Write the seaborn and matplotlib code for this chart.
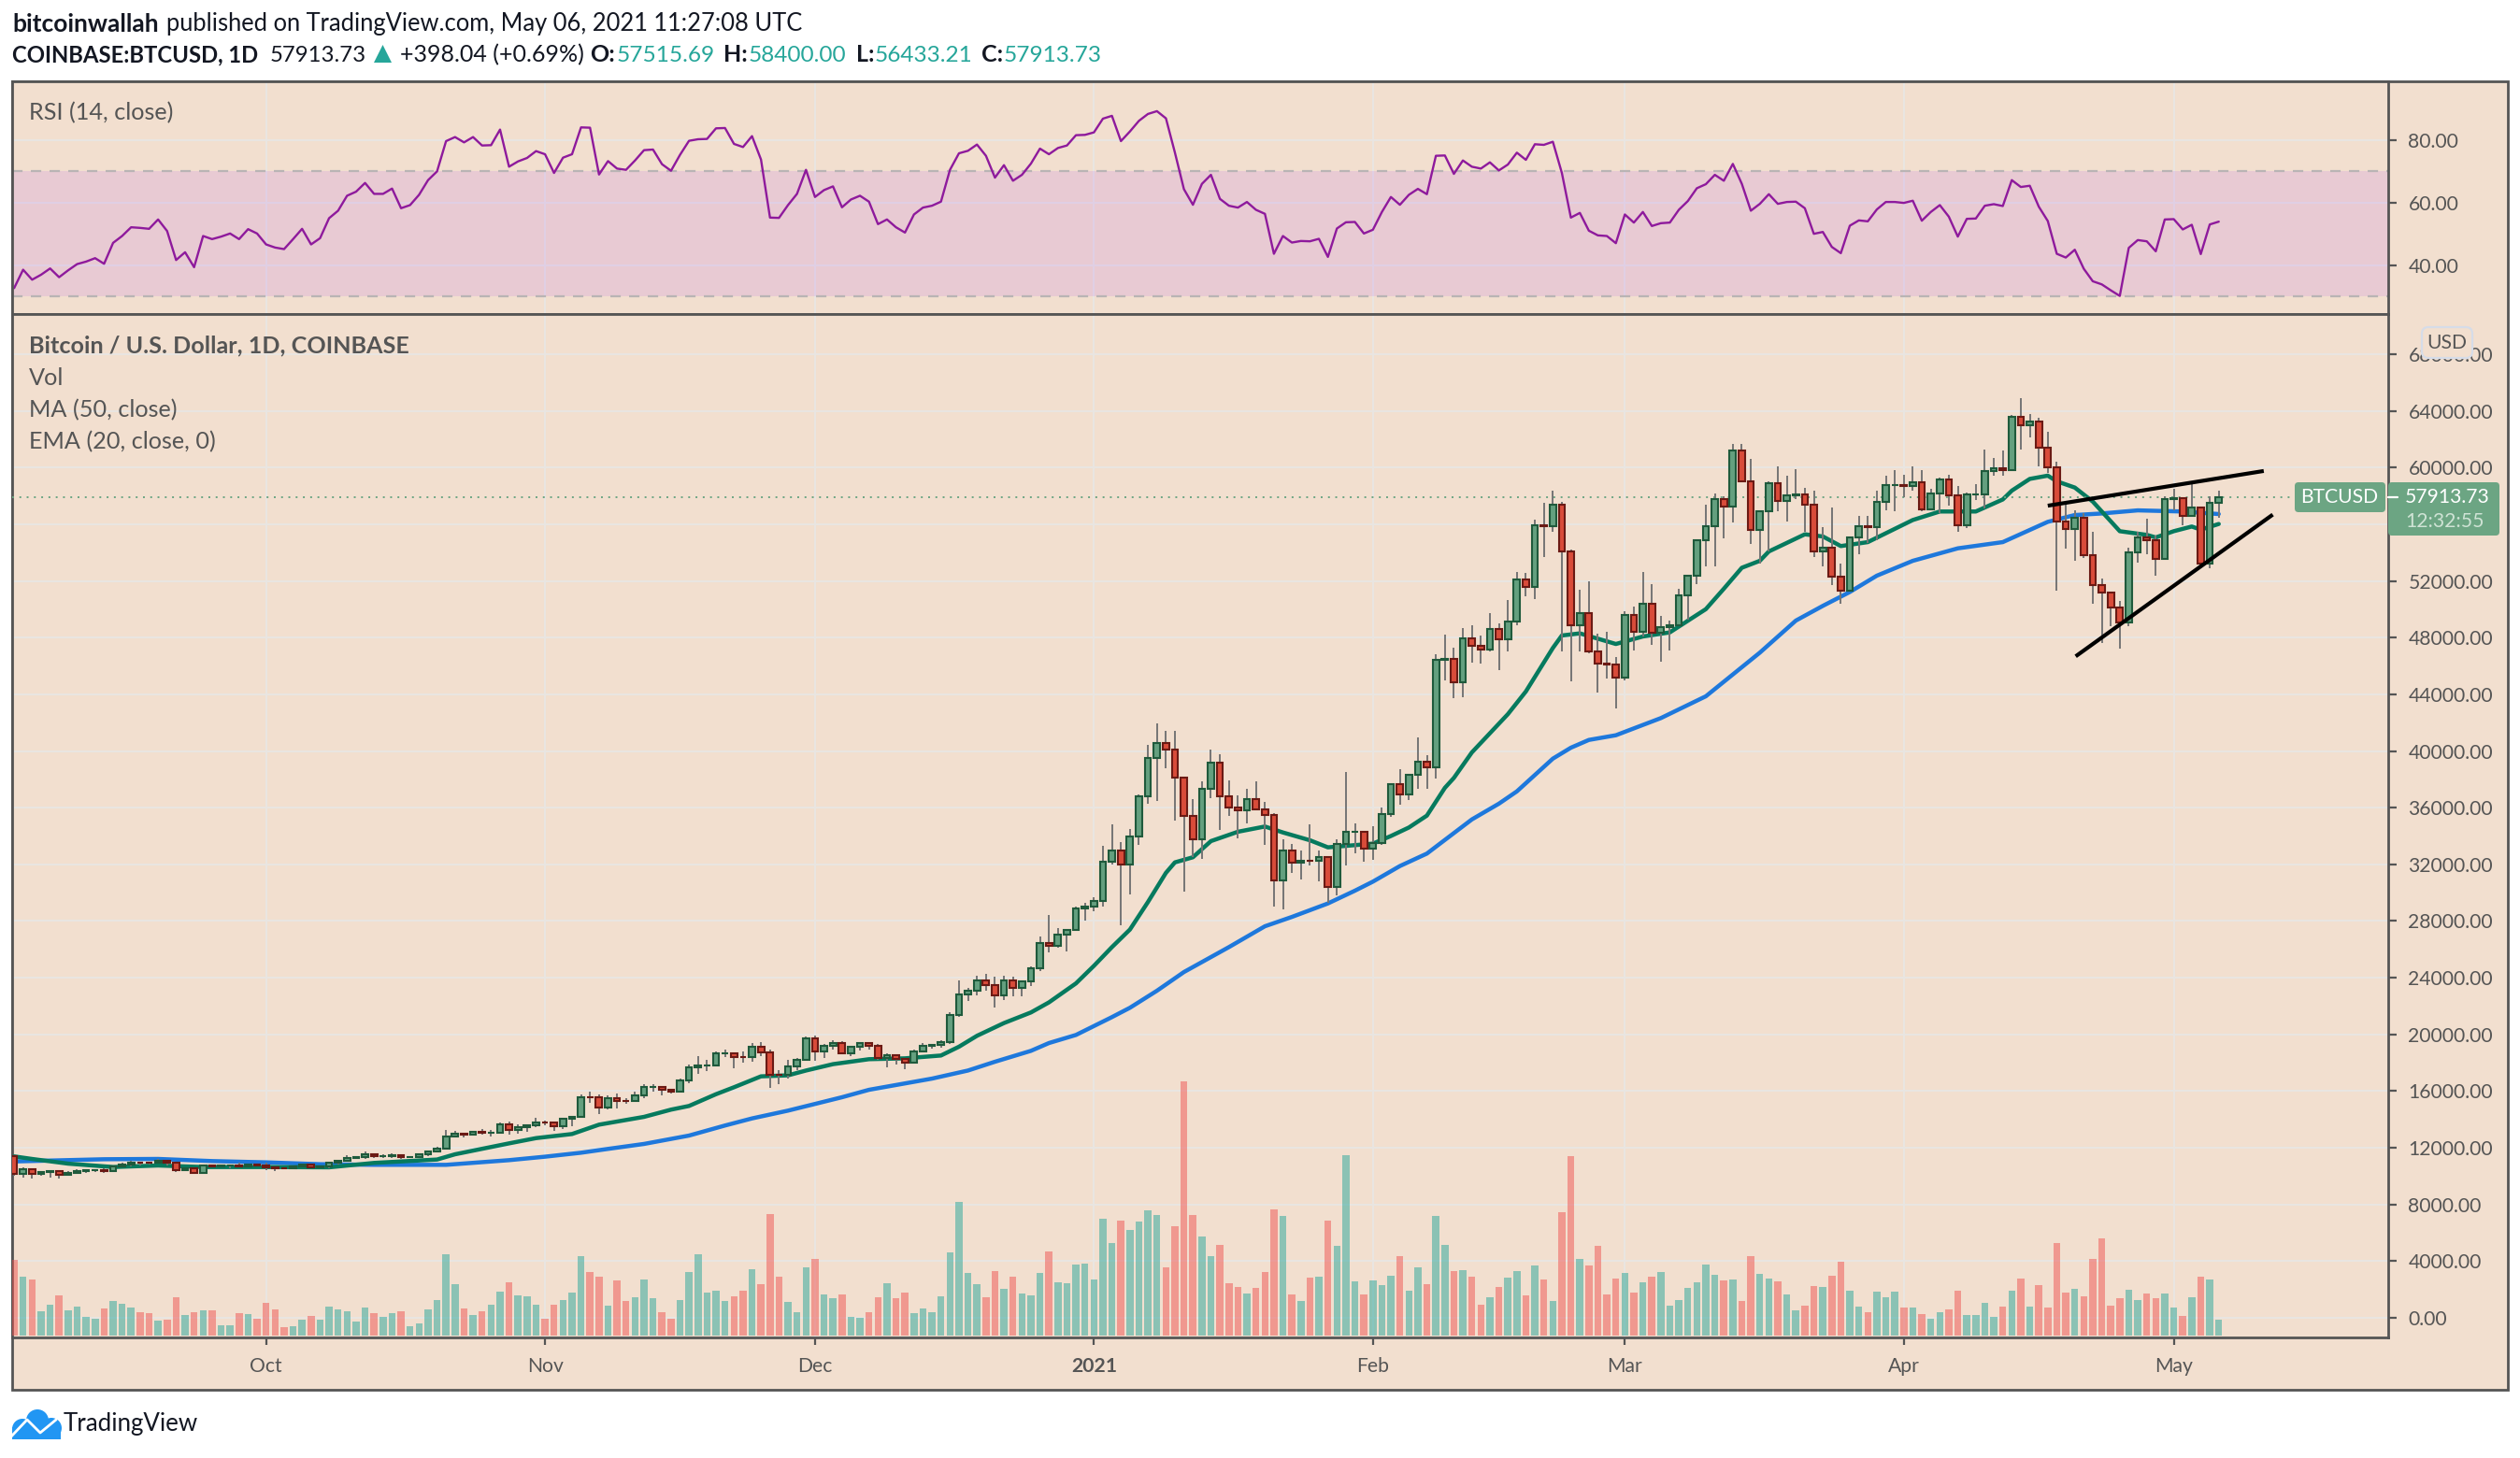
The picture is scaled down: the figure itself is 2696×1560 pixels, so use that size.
import matplotlib
matplotlib.use("Agg")
import matplotlib.pyplot as plt
import pandas as pd
import seaborn as sns
from matplotlib.lines import Line2D
from matplotlib.patches import Circle, FancyBboxPatch, Polygon, Rectangle
from matplotlib.transforms import Affine2D

# Daily closes, Sep 3 2020 to May 6 2021, one row per month
first_open = 11400
closes = [
    10170, 10470, 10160, 10260, 10370, 10120, 10230, 10340, 10390, 10440, 10330, 10680, 10790, 10955, 10940, 10930,
    11080, 10920, 10420, 10535, 10240, 10740, 10690, 10725, 10775, 10690, 10840, 10780,
    10620, 10570, 10550, 10670, 10790, 10600, 10670, 10920, 11060, 11300, 11375, 11540, 11430, 11430, 11500, 11320,
    11370, 11510, 11750, 11915, 12810, 12990, 12940, 13120, 13030, 13070, 13650, 13280, 13460, 13560, 13800,
    13760, 13550, 14020, 14150, 15590, 15580, 14840, 15480, 15330, 15300, 15700, 16290, 16320, 16070, 15960,
    16730, 17660, 17780, 17800, 18670, 18680, 18400, 18370, 19150, 18730, 17150, 17130, 17720, 18180, 19700,
    18790, 19220, 19420, 18650, 19150, 19360, 19170, 18320, 18550, 18250, 18030, 18810, 19160, 19270, 19440,
    21350, 22800, 23110, 23820, 23480, 22730, 23820, 23250, 23720, 24690, 26450, 26250, 27030, 27370, 28880, 28990,
    29410, 32200, 33000, 31990, 33950, 36770, 39480, 40580, 40090, 38150, 35400, 33780, 37310, 39150, 36830, 36020,
    35820, 36620, 35900, 35470, 30850, 33000, 32090, 32280, 32260, 32500, 30400, 33430, 34290, 34300, 33110,
    33520, 35520, 37670, 36950, 38290, 39250, 38870, 46450, 46500, 44850, 47970, 47400, 47190, 48580, 47900,
    49150, 52120, 51570, 55900, 55880, 57400, 54100, 48870, 49700, 47050, 46170, 46100, 45200,
    49610, 48440, 50370, 48370, 48760, 48880, 50970, 52390, 54890, 55850, 57800, 57240, 61180, 59000, 55630, 56900,
    58900, 57650, 58030, 58100, 57350, 54080, 54340, 52300, 51300, 55050, 55850, 55780, 57600, 58770, 58790,
    58720, 58950, 57070, 58200, 59130, 58020, 55960, 58100, 58100, 59770, 59980, 59830, 63590, 62970, 63220,
    61400, 60010, 56200, 55670, 56480, 53800, 51700, 51190, 50100, 49100, 54030, 55040, 54880, 53570, 57750,
    57840, 56620, 57200, 53240, 57515, 57913,
]
highs = [
    11460, 10630, 10570, 10350, 10400, 10440, 10350, 10500, 10400, 10480, 10580, 10760, 10940, 11100, 11040, 11040,
    11180, 11050, 10980, 10580, 10560, 10780, 10770, 10820, 10800, 10950, 10860, 10850,
    10930, 10670, 10590, 10700, 10800, 10800, 10690, 10960, 11110, 11490, 11440, 11730, 11560, 11550, 11620, 11550,
    11400, 11530, 11820, 12040, 13240, 13200, 13040, 13170, 13350, 13240, 13790, 13860, 13630, 13680, 14100,
    13900, 13840, 14070, 14260, 15750, 15970, 15770, 15670, 15850, 15480, 15970, 16500, 16480, 16330, 16180,
    16880, 17860, 18480, 18200, 18820, 18960, 18700, 18770, 19420, 19480, 18920, 17450, 18180, 18350, 19860,
    19920, 19300, 19560, 19500, 19190, 19420, 19430, 19300, 18640, 18590, 18300, 18950, 19420, 19350, 19570,
    21560, 23800, 23300, 24170, 24300, 24100, 24120, 24100, 23800, 24790, 26900, 28400, 27500, 27400, 29000, 29300,
    29680, 33300, 34800, 33600, 34500, 36950, 40400, 41950, 41400, 41450, 38200, 36600, 37850, 40100, 39750, 37950,
    36850, 37300, 37850, 36400, 35600, 33800, 33450, 33000, 34850, 32950, 32550, 33780, 38500, 34900, 34300,
    34700, 35980, 37700, 38700, 38300, 40950, 39700, 46800, 48200, 47300, 48650, 48900, 48150, 49700, 49000,
    50650, 52650, 52550, 56350, 57500, 58400, 57550, 54200, 51400, 52000, 48300, 48400, 46650,
    49850, 50200, 52650, 51800, 49500, 49200, 51450, 52400, 54900, 57400, 58150, 58000, 61700, 61700, 60600, 56900,
    59000, 60100, 59400, 59900, 58600, 58400, 55800, 57200, 53200, 55100, 56600, 56600, 58400, 59400, 59800,
    59500, 60100, 59800, 58500, 59300, 59500, 58700, 58250, 58800, 61300, 60700, 61200, 63700, 64900, 63800,
    63500, 62500, 60400, 57600, 57000, 56800, 55500, 52200, 51000, 50600, 54350, 55500, 56400, 55200, 58000,
    58500, 57900, 59030, 57200, 58000, 58400,
]
lows = [
    10000, 9900, 9850, 10030, 9875, 9850, 10000, 10200, 10200, 10270, 10200, 10270, 10630, 10660, 10750, 10820,
    10890, 10750, 10300, 10350, 10140, 10200, 10600, 10650, 10550, 10640, 10650, 10660,
    10430, 10370, 10500, 10520, 10630, 10530, 10550, 10530, 10830, 11050, 11280, 11200, 11280, 11280, 11250, 11200,
    11270, 11340, 11400, 11690, 11900, 12700, 12720, 12890, 12900, 12800, 13060, 12900, 12980, 13130, 13430,
    13600, 13200, 13300, 13530, 14100, 15200, 14350, 14700, 14800, 15080, 15280, 15500, 15950, 15700, 15800,
    15870, 16550, 17220, 17400, 17750, 18400, 17600, 18000, 18060, 18500, 16200, 16500, 16880, 17500, 18180,
    18150, 18340, 18900, 18600, 18500, 18850, 18900, 18200, 17650, 17900, 17570, 18000, 18740, 19000, 19060,
    19300, 21230, 22350, 22750, 23060, 21900, 22400, 22700, 22700, 23440, 24500, 25800, 26100, 25850, 27320, 28000,
    28700, 29000, 32000, 27700, 29900, 33400, 36300, 36500, 38800, 35100, 30100, 32500, 32400, 36700, 34400, 35400,
    33850, 34900, 35850, 33400, 29050, 28800, 31400, 30900, 31900, 30800, 29300, 29800, 31950, 32800, 32200,
    32300, 33400, 35360, 36200, 36570, 37350, 37350, 38050, 45000, 43750, 43800, 46250, 46200, 47000, 45700,
    47000, 48900, 50900, 50750, 53700, 55500, 47000, 44900, 47000, 46900, 44100, 45100, 43000,
    45000, 47100, 48100, 47500, 46300, 47100, 48900, 49300, 51800, 53000, 53000, 55000, 56100, 59000, 54600, 53200,
    54100, 56900, 56200, 57800, 55500, 53700, 53000, 51700, 50400, 51300, 53900, 54700, 54900, 57000, 56900,
    57900, 58400, 56900, 57000, 56800, 57300, 55500, 55700, 57700, 57100, 59400, 59400, 59800, 61300, 62100,
    60100, 59600, 51300, 54300, 53450, 53650, 50400, 47600, 48800, 47200, 48800, 53300, 53900, 52400, 53600,
    57000, 55900, 56550, 53000, 52900, 56433,
]
# Volume bar heights
volume = [
    243, 189, 180, 78, 99, 129, 81, 93, 60, 54, 87, 111, 102, 90, 75, 72, 48, 51, 123, 66, 75, 81, 81, 33, 33, 72, 69, 54,
    105, 84, 27, 30, 51, 63, 51, 93, 84, 78, 45, 90, 72, 60, 72, 78, 30, 39, 84, 114, 261, 165, 87, 66, 78, 99, 141, 171, 129, 126, 99,
    54, 99, 114, 138, 255, 204, 189, 96, 177, 111, 123, 180, 120, 75, 54, 114, 204, 261, 138, 144, 111, 126, 144, 213, 165, 390, 189, 108, 75, 219,
    246, 132, 120, 132, 60, 57, 75, 123, 168, 120, 138, 72, 87, 75, 126, 267, 429, 201, 165, 123, 207, 150, 189, 135, 129, 201, 270, 171, 168, 228, 231, 180,
    375, 297, 369, 339, 366, 402, 387, 219, 351, 816, 387, 318, 255, 291, 168, 156, 135, 153, 204, 405, 384, 132, 111, 186, 189, 369, 288, 579, 174, 132, 177,
    162, 192, 255, 144, 219, 165, 384, 291, 207, 210, 189, 99, 123, 156, 186, 207, 129, 225, 180, 111, 396, 576, 246, 225, 288, 132, 183,
    201, 138, 171, 189, 204, 96, 114, 153, 171, 228, 195, 177, 180, 111, 255, 198, 183, 174, 132, 81, 96, 159, 156, 192, 237, 144, 93, 75, 141, 123, 141, 90,
    90, 69, 54, 75, 84, 144, 66, 66, 105, 60, 93, 144, 183, 93, 162, 90, 297, 138, 150, 126, 246, 312, 96, 120, 147, 114, 135, 120, 135,
    90, 63, 123, 189, 180, 51,
]
rsi_values = [
    32.6, 38.5, 35.3, 36.9, 38.9, 36.1, 38.3, 40.3, 41.1, 42.2, 40.4, 47.1, 49.3, 52.1, 51.9, 51.6, 54.6, 50.9, 41.6, 44.1,
    39.3, 49.3, 48.3, 49.1, 50.1, 48.3, 51.5, 50.1, 46.6, 45.6, 45.1, 48.3, 51.6, 46.6, 48.6, 55.0, 57.4, 62.2, 63.5, 66.3,
    62.8, 62.8, 64.5, 58.2, 59.2, 62.5, 67.2, 70.0, 79.7, 81.0, 79.3, 81.0, 78.3, 78.4, 83.4, 71.5, 73.2, 74.3, 76.5, 75.5,
    69.5, 74.4, 75.5, 84.1, 84.0, 69.0, 73.3, 70.9, 70.5, 73.5, 76.8, 77.0, 72.3, 70.2, 75.3, 79.8, 80.3, 80.4, 83.8, 83.9,
    78.8, 77.8, 81.3, 73.8, 55.2, 55.1, 59.2, 62.8, 70.5, 61.8, 64.0, 65.2, 58.5,
    61.0, 62.2, 60.3, 53.1, 54.6, 52.1, 50.4, 56.2, 58.4, 59.0, 60.3, 70.5, 75.8, 76.6, 78.6, 75.0, 68.0, 72.0, 67.0, 68.9,
    72.5, 77.3, 75.5, 77.5, 78.3, 81.6, 81.7, 82.5, 86.9, 87.8, 79.7, 82.8, 86.2, 88.4, 89.3, 87.0, 76.0, 64.3, 59.3, 66.0,
    68.9, 61.2, 59.0, 58.4, 60.2, 57.7, 56.4, 43.6, 49.3, 47.2, 47.7, 47.6, 48.4, 42.6, 51.7, 53.7, 53.8, 50.1, 51.3, 57.0,
    61.8, 59.3, 62.5, 64.4, 62.7, 75.0, 75.1, 69.2, 73.5, 71.5, 70.9, 72.9, 70.3, 72.2, 76.0, 73.7, 78.7, 78.5, 79.5,
    69.5, 55.2, 56.7, 51.0, 49.5, 49.3, 47.0, 56.2, 53.6, 57.0, 52.5, 53.4, 53.6, 57.7, 60.5, 64.6, 65.9, 68.9, 67.0, 72.4,
    66.0, 57.4, 59.6, 62.7, 59.6, 60.2, 60.3, 58.2, 50.0, 50.6, 45.8, 43.8, 52.6, 54.3, 54.0, 57.8, 60.2, 60.2, 59.9, 60.6,
    54.2, 57.0, 59.2, 55.5, 49.1, 54.8, 54.9, 59.0, 59.5, 58.9, 67.2, 65.0, 65.4, 58.7, 54.1, 43.6, 42.4, 44.9, 38.8, 34.8,
    33.8, 31.9, 30.1, 45.5, 48.0, 47.6, 44.4, 54.6, 54.7, 51.4, 52.9, 43.5, 53.0, 53.9,
]
# Moving averages, read at the bends of each line (bar number, price)
ma_bars = [0, 10, 16, 22, 28, 34, 40, 48, 55, 59, 63, 66, 70, 75, 79, 82, 86, 92, 95, 102, 106, 109, 113, 115, 118, 122, 124, 127, 130,
           135, 139, 142, 146, 149, 151, 154, 157, 162, 165, 167, 171, 173, 175, 178, 183, 188, 191, 194, 198, 201, 204, 207, 211, 216,
           221, 226, 229, 232, 236, 241, 245]
ma_values = [11035, 11190, 11212, 11060, 10970, 10840, 10795, 10795, 11125, 11370, 11650, 11920, 12270, 12860, 13570, 14070, 14620,
             15565, 16090, 16880, 17450, 18070, 18840, 19390, 19960, 21220, 21880, 23080, 24400, 26160, 27630, 28290, 29240, 30140,
             30780, 31880, 32760, 35170, 36280, 37150, 39460, 40230, 40780, 41110, 42320, 43860, 45400, 46940, 49200, 50240, 51220,
             52370, 53420, 54300, 54740, 56170, 56650, 56760, 56980, 56900, 56720]
ema_bars = [0, 2, 6, 11, 16, 21, 28, 35, 40, 47, 49, 55, 58, 62, 65, 70, 73, 75, 78, 80, 83, 86, 88, 91, 95, 99, 103, 105, 107, 110,
            113, 115, 118, 120, 122, 124, 126, 128, 129, 131, 133, 136, 139, 141, 144, 146, 151, 153, 155, 157, 159, 160,
            162, 166, 168, 171, 172, 174, 178, 181, 184, 188, 190, 192, 194, 195, 199, 201, 203, 206, 211, 214, 218, 221,
            222, 224, 226, 227, 229, 231, 234, 237, 238, 240, 242, 243, 245]
ema_values = [11390, 11210, 10880, 10640, 10750, 10640, 10640, 10620, 10930, 11170, 11540, 12310, 12680, 12970, 13630, 14180, 14690,
              14950, 15780, 16270, 17040, 17110, 17450, 17900, 18250, 18310, 18510, 19130, 19900, 20800, 21550, 22260, 23600,
              24840, 26160, 27400, 29340, 31400, 32140, 32500, 33640, 34300, 34670, 34250, 33700, 33200, 33460, 34000,
              34600, 35440, 37400, 38100, 39900, 42600, 44200, 47270, 48150, 48300, 47550, 48080, 48370, 50010, 51450,
              52930, 53420, 54080, 55290, 55140, 54460, 54740, 56300, 56900, 56900, 57750, 58370, 59200, 59430, 59030,
              58590, 57600, 55510, 55250, 55070, 55510, 55840, 55620, 56020]
# Hand drawn trend lines
support_bars, support_prices = [229.1, 251], [46680, 56680]
resist_bars, resist_prices = [226, 250], [57310, 59760]
last_price = 57913.73
price_ticks = list(range(0, 72000, 4000))
rsi_ticks = [40, 60, 80]
month_labels = ["Oct", "Nov", "Dec", "2021", "Feb", "Mar", "Apr", "May"]
month_dates = ["2020-10-01", "2020-11-01", "2020-12-01", "2021-01-01", "2021-02-01", "2021-03-01", "2021-04-01", "2021-05-01"]

df = pd.DataFrame({"close": closes, "high": highs, "low": lows, "vol": volume, "rsi": rsi_values})
df["date"] = pd.date_range("2020-09-03", periods=len(df), freq="D")
df["bar"] = range(len(df))
df["open"] = df["close"].shift(1).fillna(first_open)
df["dir"] = ["up" if c >= o else "down" for c, o in zip(df["close"], df["open"])]
month_bars = [int(df.index[df["date"] == d][0]) for d in month_dates]

# Style
W, H = 2696, 1560
BG = "#f2dfcf"
GRID = "#e9e5e1"
AXIS = "#555555"
UP_BODY, UP_EDGE = "#64a07f", "#1f5a3c"
DOWN_BODY, DOWN_EDGE = "#d94c3a", "#6b1a14"
LABEL_GREEN = "#6ca583"
sns.set_theme(style="white")
plt.rcParams["font.family"] = ["Lato", "DejaVu Sans"]

fig = plt.figure(figsize=(W / 200, H / 200), dpi=200, facecolor="white")
fig_px = Affine2D().scale(1 / W, -1 / H).translate(0, 1) + fig.transFigure


def pane(x0, y0, x1, y1):
    return fig.add_axes([x0 / W, 1 - y1 / H, (x1 - x0) / W, (y1 - y0) / H])


def px_text(x, y, s, **kw):
    kw.setdefault("va", "center")
    kw.setdefault("color", "#131722")
    return fig.text(x, y, s, transform=fig_px, **kw)


LEFT, RIGHT, OUTER = 12.6, 2555, 2682.7
TOP, SPLIT, BOTTOM, OUTER_B = 86.7, 336, 1431, 1487
fig.add_artist(Rectangle((LEFT, TOP), OUTER - LEFT, OUTER_B - TOP, transform=fig_px, facecolor=BG, edgecolor=AXIS,
                         linewidth=1.0, zorder=-1))

ax_rsi = pane(LEFT, TOP, RIGHT, SPLIT)
ax_price = pane(LEFT, SPLIT, RIGHT, BOTTOM)
ax_vol = ax_price.twinx()
for ax in (ax_rsi, ax_price):
    ax.set_facecolor(BG)
    ax.set_xlim(-0.26, 263.83)
    ax.set_xticks(month_bars)
    ax.grid(True, color=GRID, linewidth=0.75)
    ax.set_axisbelow(True)
    ax.yaxis.tick_right()
    ax.tick_params(axis="y", length=3.2, width=0.8, color=AXIS, labelcolor=AXIS, labelsize=7.6, pad=4.5, right=True)
    for s in ax.spines.values():
        s.set_color(AXIS)
        s.set_linewidth(1.0)

# RSI pane
ax_rsi.set_ylim(24.3, 98.95)
ax_rsi.set_yticks(rsi_ticks)
ax_rsi.set_yticklabels([f"{v:.2f}" for v in rsi_ticks])
ax_rsi.tick_params(axis="x", length=0, labelbottom=False)
ax_rsi.axhspan(30, 70, color="#9915ff", alpha=0.1, linewidth=0)
for lvl in (30, 70):
    ax_rsi.axhline(lvl, color="#b9b4b4", linewidth=0.8, linestyle=(0, (5, 4)))
sns.lineplot(data=df, x="bar", y="rsi", color="#8e1a9c", linewidth=0.85, errorbar=None, ax=ax_rsi)
ax_rsi.set_xlabel("")
ax_rsi.set_ylabel("")

# Price pane: candles, then moving averages
ax_price.set_ylim(-1385, 70835)
sns.lineplot(x=ma_bars, y=ma_values, color="#1e78dc", linewidth=1.6, errorbar=None, ax=ax_price, zorder=3)
sns.lineplot(x=ema_bars, y=ema_values, color="#067a5e", linewidth=1.6, errorbar=None, ax=ax_price, zorder=3)
body_low = df[["open", "close"]].min(axis=1)
body_h = (df["close"] - df["open"]).abs()
ax_price.vlines(df["bar"], df["low"], df["high"], color="#757575", linewidth=0.7, zorder=4)
ax_price.bar(df["bar"], body_h, bottom=body_low, width=0.7,
             color=[UP_BODY if d == "up" else DOWN_BODY for d in df["dir"]],
             edgecolor=[UP_EDGE if d == "up" else DOWN_EDGE for d in df["dir"]], linewidth=0.75, zorder=5)
ax_price.plot(resist_bars, resist_prices, color="black", linewidth=1.5, zorder=6, solid_capstyle="butt")
ax_price.plot(support_bars, support_prices, color="black", linewidth=1.5, zorder=6, solid_capstyle="butt")
ax_price.axhline(last_price, color=LABEL_GREEN, linewidth=0.7, linestyle=(0, (1, 3)), zorder=3)
ax_price.set_yticks(price_ticks)
# The 56000 label sits under the price box on the scale, so it stays blank
ax_price.set_yticklabels(["" if v == 56000 else f"{v:.2f}" for v in price_ticks])
ax_price.set_xticklabels(month_labels)
ax_price.tick_params(axis="x", length=3.0, width=0.8, color=AXIS, labelcolor=AXIS, labelsize=7.6, pad=4.5, bottom=True)
ax_price.get_xticklabels()[3].set_fontweight("bold")
ax_price.set_xlabel("")
ax_price.set_ylabel("")

# Volume sits on its own scale at the foot of the price pane
sns.barplot(data=df, x="bar", y="vol", hue="dir", palette={"up": "#26a69a", "down": "#ef5350"}, hue_order=["up", "down"],
            native_scale=True, dodge=False, width=0.78, alpha=0.5, saturation=1, linewidth=0, legend=False, ax=ax_vol)
ax_vol.set_ylim(-6, 3279)
ax_vol.set_xlim(-0.26, 263.83)
ax_vol.patch.set_visible(False)
ax_vol.grid(False)
ax_vol.set_yticks([])
ax_vol.set_xlabel("")
ax_vol.set_ylabel("")
for s in ax_vol.spines.values():
    s.set_visible(False)
ax_price.yaxis.tick_right()
ax_price.set_xlim(-0.26, 263.83)

# Header
px_text(13, 26, "bitcoinwallah", fontweight="bold", fontsize=9.5)
px_text(178, 26, "published on TradingView.com, May 06, 2021 11:27:08 UTC", fontsize=9.2)
px_text(13, 59, "COINBASE:BTCUSD, 1D", fontweight="bold", fontsize=8.6)
px_text(289, 59, "57913.73", fontsize=8.6)
fig.add_artist(Polygon([[400, 67], [419, 67], [409.5, 48]], transform=fig_px, facecolor="#26a69a", edgecolor="none", zorder=5))
px_text(428, 59, "+398.04 (+0.69%)", fontsize=9.0)
for x, s in [(631, "O:"), (774, "H:"), (916, "L:"), (1050, "C:")]:
    px_text(x, 59, s, fontweight="bold", fontsize=9.0)
for x, s in [(660, "57515.69"), (801, "58400.00"), (936, "56433.21"), (1074, "57913.73")]:
    px_text(x, 59, s, color="#26a69a", fontsize=8.8)

# Pane legends
px_text(31, 121, "RSI (14, close)", color=AXIS, fontsize=9.1)
px_text(31, 370, "Bitcoin / U.S. Dollar, 1D, COINBASE", color=AXIS, fontweight="bold", fontsize=9.05)
px_text(31, 404, "Vol", color=AXIS, fontsize=9.1)
px_text(31, 439, "MA (50, close)", color=AXIS, fontsize=9.1)
px_text(31, 473, "EMA (20, close, 0)", color=AXIS, fontsize=9.1)

# Price labels on the scale
fig.add_artist(FancyBboxPatch((2455, 516), 97, 32, boxstyle="round,pad=0,rounding_size=4", transform=fig_px,
                              facecolor=LABEL_GREEN, edgecolor="none", zorder=5))
fig.add_artist(FancyBboxPatch((2555, 516), 119, 57, boxstyle="round,pad=0,rounding_size=4", transform=fig_px,
                              facecolor=LABEL_GREEN, edgecolor="none", zorder=5))
fig.add_artist(Line2D([2555, 2565], [532, 532], transform=fig_px, color="white", linewidth=0.8, zorder=6))
px_text(2503, 532, "BTCUSD", color="white", fontsize=7.6, ha="center", zorder=6)
px_text(2618, 532, "57913.73", color="white", fontsize=7.6, ha="center", zorder=6)
px_text(2616, 558, "12:32:55", color="#cfe3d5", fontsize=7.6, ha="center", zorder=6)
fig.add_artist(FancyBboxPatch((2591, 350), 54, 33, boxstyle="round,pad=0,rounding_size=7", transform=fig_px,
                              facecolor=BG, edgecolor="#d6dce8", linewidth=0.8, zorder=5))
px_text(2618, 367, "USD", color=AXIS, fontsize=7.6, ha="center", zorder=6)

# TradingView logo
logo = pane(10, 1506, 68, 1542)
logo.set_xlim(10, 68)
logo.set_ylim(1542, 1506)
logo.axis("off")
for cx, cy, r in [(24, 1529, 11), (40, 1520, 12), (55, 1528, 11)]:
    logo.add_patch(Circle((cx, cy), r, facecolor="#2196f3", edgecolor="none"))
logo.add_patch(Rectangle((13, 1527), 52, 13, facecolor="#2196f3", edgecolor="none"))
logo.plot([12, 29, 43, 60], [1537, 1519, 1533, 1519], color="white", linewidth=1.0)
px_text(68, 1524, "TradingView", fontsize=9.3)

fig.savefig("out.png", dpi=200, facecolor="white")
